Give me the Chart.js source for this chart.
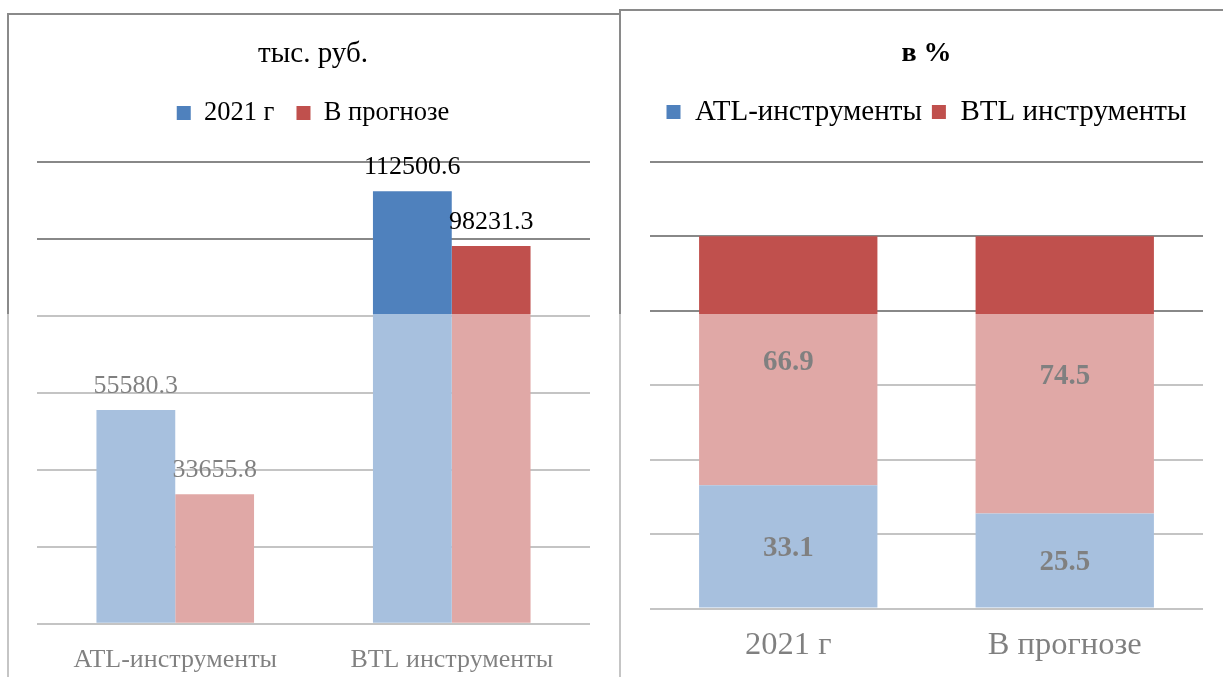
<!DOCTYPE html>
<html lang="ru">
<head>
<meta charset="utf-8">
<script src="https://cdn.jsdelivr.net/npm/chart.js@4/dist/chart.umd.min.js"></script>
<style>
  html, body { margin: 0; padding: 0; background: #fff; }
  body { width: 1223px; height: 677px; position: relative; overflow: hidden; }
  .frame { position: absolute; border-top: 2px solid #8a8a8a; border-left: 2px solid #8a8a8a; background: #fff; }
  #frameRub { left: 7px; top: 13px; width: 620px; height: 700px; }
  #framePct { left: 619px; top: 9px; width: 700px; height: 700px; }
  canvas { position: absolute; }
  #chartRub { left: 9px; top: 15px; }
  #chartPct { left: 622px; top: 11px; }
  /* светлая полупрозрачная полоса на нижней части картинки */
  #veil { position: absolute; left: 0; top: 314px; width: 1223px; height: 363px; background: rgba(255, 255, 255, 0.5); }
</style>
</head>
<body>
<div class="frame" id="frameRub"></div>
<div class="frame" id="framePct"></div>
<canvas id="chartRub" width="610" height="682"></canvas>
<canvas id="chartPct" width="601" height="672"></canvas>
<div id="veil"></div>

<script>
// данные: тыс. руб.
const categoriesRub = ['ATL-инструменты', 'BTL инструменты'];
const rub2021 = [55580.3, 112500.6];
const rubForecast = [33655.8, 98231.3];
const rubMax = 120000;
const rubStep = 20000;

// данные: в %
const categoriesPct = ['2021 г', 'В прогнозе'];
const pctATL = [33.1, 25.5];
const pctBTL = [66.9, 74.5];
const pctMax = 120;
const pctStep = 20;

const serif = "'Liberation Serif', 'Times New Roman', serif";
const blue = '#4F81BD';
const red = '#C0504D';
const gridColor = '#888888';

Chart.defaults.font.family = serif;
Chart.defaults.color = '#000';

// подписи значений над столбцами / в центре сегментов
const barLabels = {
    id: 'barLabels',
    afterDatasetsDraw(chart, args, opts) {
        const ctx = chart.ctx;
        ctx.save();
        ctx.font = `${opts.weight || 'normal'} ${opts.size}px ${serif}`;
        ctx.fillStyle = '#000';
        ctx.textAlign = 'center';
        chart.data.datasets.forEach((ds, i) => {
            chart.getDatasetMeta(i).data.forEach((bar, j) => {
                const text = String(ds.data[j]);
                if (opts.inside) {
                    ctx.textBaseline = 'middle';
                    ctx.fillText(text, bar.x, (bar.y + bar.base) / 2 + 2);
                } else {
                    ctx.textBaseline = 'alphabetic';
                    ctx.fillText(text, bar.x, bar.y - 17);
                }
            });
        });
        ctx.restore();
    }
};

// пустая ось сверху — только чтобы дать отступ между легендой и графиком
function spacer(h) {
    return {
        type: 'category',
        position: 'top',
        grid: { display: false, drawTicks: false },
        border: { display: false },
        ticks: { display: false },
        afterFit(s) { s.height = h; }
    };
}

new Chart(document.getElementById('chartRub'), {
    type: 'bar',
    data: {
        labels: categoriesRub,
        datasets: [
            { label: '2021 г', data: rub2021, backgroundColor: blue, borderWidth: 0 },
            { label: 'В прогнозе', data: rubForecast, backgroundColor: red, borderWidth: 0 }
        ]
    },
    options: {
        responsive: false,
        animation: false,
        layout: { padding: { left: 27, right: 29, top: 0, bottom: 0 } },
        datasets: { bar: { categoryPercentage: 0.57, barPercentage: 1 } },
        plugins: {
            title: {
                display: true, text: 'тыс. руб.', color: '#000',
                font: { size: 29, weight: 'normal' },
                padding: { top: 21.8, bottom: 6.2 }
            },
            legend: {
                labels: { color: '#000', font: { size: 26.5 }, boxWidth: 14, boxHeight: 14, padding: 22 }
            },
            tooltip: { enabled: false },
            barLabels: { size: 26 }
        },
        scales: {
            x: {
                grid: { display: false, drawTicks: false },
                border: { display: false },
                ticks: { color: '#000', font: { size: 26 }, padding: 21 }
            },
            y: {
                min: 0, max: rubMax,
                ticks: { display: false, stepSize: rubStep },
                grid: { color: gridColor, lineWidth: 2, drawTicks: false },
                border: { display: false },
                afterFit(s) { s.width = 1; }
            },
            gap: spacer(26)
        }
    },
    plugins: [barLabels]
});

new Chart(document.getElementById('chartPct'), {
    type: 'bar',
    data: {
        labels: categoriesPct,
        datasets: [
            { label: 'ATL-инструменты', data: pctATL, backgroundColor: blue, borderWidth: 0 },
            { label: 'BTL инструменты', data: pctBTL, backgroundColor: red, borderWidth: 0 }
        ]
    },
    options: {
        responsive: false,
        animation: false,
        layout: { padding: { left: 28, right: 20, top: 0, bottom: 0.5 } },
        datasets: { bar: { categoryPercentage: 0.645, barPercentage: 1 } },
        plugins: {
            title: {
                display: true, text: 'в %', color: '#000',
                font: { size: 28, weight: 'bold' },
                padding: { top: 25.7, bottom: 17.2 }
            },
            legend: {
                labels: { color: '#000', font: { size: 29 }, boxWidth: 14, boxHeight: 14, padding: 10 }
            },
            tooltip: { enabled: false },
            barLabels: { size: 29, weight: 'bold', inside: true }
        },
        scales: {
            x: {
                stacked: true,
                grid: { display: false, drawTicks: false },
                border: { display: false },
                ticks: { color: '#000', font: { size: 32.5 }, padding: 17.5 }
            },
            y: {
                stacked: true,
                min: 0, max: pctMax,
                ticks: { display: false, stepSize: pctStep },
                grid: { color: gridColor, lineWidth: 2, drawTicks: false },
                border: { display: false },
                afterFit(s) { s.width = 0; }
            },
            gap: spacer(25.2)
        }
    },
    plugins: [barLabels]
});
</script>
</body>
</html>
